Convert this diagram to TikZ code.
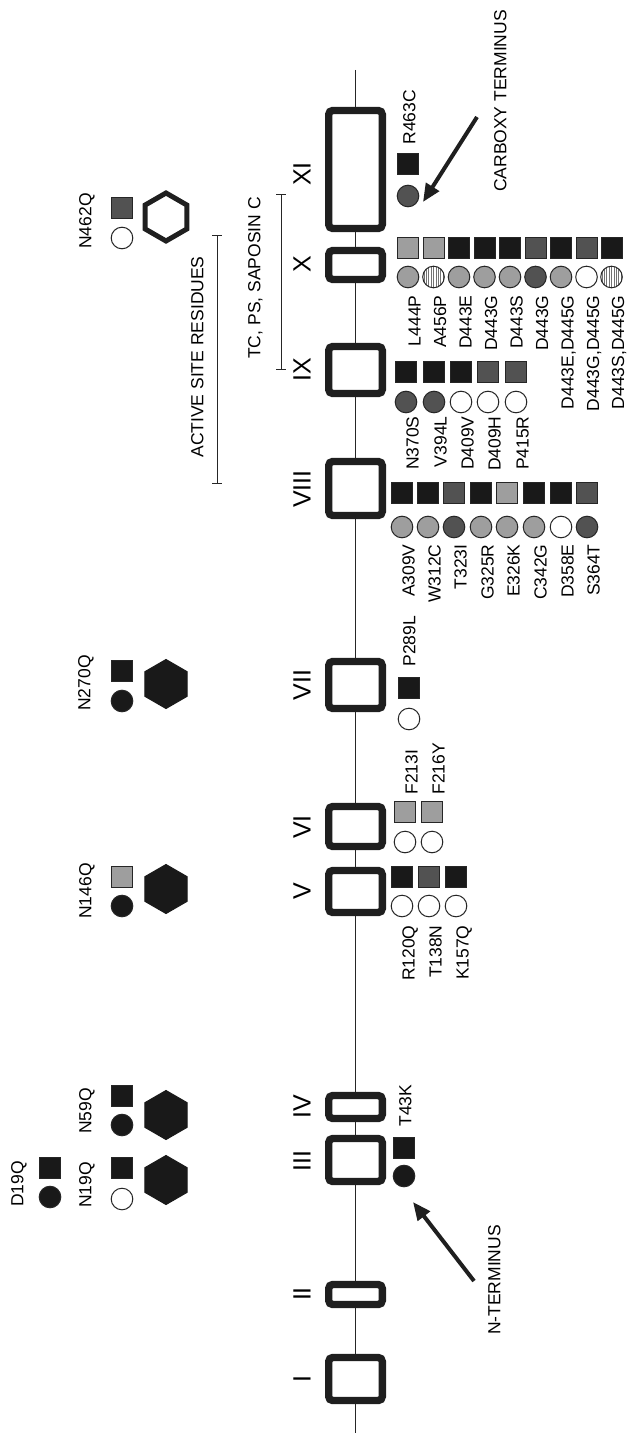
\documentclass[tikz,border=0pt]{standalone}
\usepackage{fontspec}
\setmainfont{Liberation Sans}
\usetikzlibrary{shapes.geometric,arrows.meta}
\newcommand\labfont{\fontsize{8.75}{10}\selectfont}
\newcommand\romfont{\fontsize{12.5}{14}\selectfont}
\begin{document}
\begin{tikzpicture}[x=0.5pt,y=-0.5pt,
  shp/.style={inner sep=0pt, outer sep=0pt, draw=black!85, line width=0.5pt},
  sq/.style={shp, rectangle, minimum size=10.5pt},
  ci/.style={shp, circle, minimum size=10.8pt},
  fk/.style={fill=black!90},
  fl/.style={fill=black!38},
  fd/.style={fill=black!68},
  fw/.style={fill=white},
  fh/.style={fill=white, path picture={
      \foreach \k in {-4,...,4} {
        \draw[black!55, line width=0.3pt]
          ([xshift=\k*1.2pt]path picture bounding box.north) --
          ([xshift=\k*1.2pt]path picture bounding box.south);}}},
  hexa/.style={regular polygon, regular polygon sides=6, rotate=90, inner sep=0pt, minimum size=24.5pt},
  hexfill/.style={hexa, fill=black!90, draw=black!90, line width=0.5pt},
  hexopen/.style={hexa, fill=white, draw=black!88, line width=2.5pt, minimum size=24pt},
  exon/.style={draw=black!88, line width=3.7pt, rounded corners=2pt, fill=white, minimum width=26.8pt, inner sep=0pt},
  lab/.style={rotate=90, inner sep=0pt, font=\labfont},
  rom/.style={rotate=90, inner sep=0pt, font=\romfont},
  spanbar/.style={line width=0.5pt, black!85},
  pointer/.style={-{Triangle[length=9pt,width=7.5pt]}, line width=2pt, black!88}
]
\useasboundingbox (0,0) rectangle (626,1433);

% backbone
\coordinate (ltop) at (355.5,70);
\coordinate (lbot) at (355.5,1433);
\draw[line width=0.6pt, black!85] (ltop) -- (lbot);

% exons
\node[exon, minimum height=59pt]   (b11) at (355.5,169.5) {};
\node[exon, minimum height=14.5pt] (b10) at (355.5,265) {};
\node[exon, minimum height=23.5pt] (b9)  at (355.5,370) {};
\node[exon, minimum height=27pt]   (b8)  at (355.5,488.5) {};
\node[exon, minimum height=23.5pt] (b7)  at (355.5,685) {};
\node[exon, minimum height=20pt]   (b6)  at (355.5,826.5) {};
\node[exon, minimum height=21pt]   (b5)  at (355.5,891.5) {};
\node[exon, minimum height=11.5pt] (b4)  at (355.5,1107) {};
\node[exon, minimum height=21.5pt] (b3)  at (355.5,1160) {};
\node[exon, minimum height=10pt]   (b2)  at (355.5,1294.5) {};
\node[exon, minimum height=21.5pt] (b1)  at (355.5,1379) {};

% roman numerals
\node[rom] (r11) at (302,174) {XI};
\node[rom] (r10) at (302,264) {X};
\node[rom] (r9)  at (302,370) {IX};
\node[rom] (r8)  at (302,489) {VIII};
\node[rom] (r7)  at (302,685) {VII};
\node[rom] (r6)  at (302,827) {VI};
\node[rom] (r5)  at (302,891) {V};
\node[rom] (r4)  at (302,1107) {IV};
\node[rom] (r3)  at (302,1161) {III};
\node[rom] (r2)  at (302,1294) {II};
\node[rom] (r1)  at (302,1379) {I};

% span bars
\coordinate (asA) at (217,236); \coordinate (asB) at (217,483);
\draw[spanbar] (asA) -- (asB);
\draw[spanbar] ([xshift=-2.5]asA) -- ([xshift=2.5]asA);
\draw[spanbar] ([xshift=-2.5]asB) -- ([xshift=2.5]asB);
\node[lab, anchor=base] (astext) at (203.3,357) {ACTIVE SITE RESIDUES};
\coordinate (tcA) at (281,195); \coordinate (tcB) at (281,369);
\draw[spanbar] (tcA) -- (tcB);
\draw[spanbar] ([xshift=-2.5]tcA) -- ([xshift=2.5]tcA);
\draw[spanbar] ([xshift=-2.5]tcB) -- ([xshift=2.5]tcB);
\node[lab, anchor=base] (tctext) at (260.3,278) {TC, PS, SAPOSIN C};

% glycosylation sites (left)
\node[lab, anchor=base] (tD19) at (23.3,1184) {D19Q};
\node[sq,fk] (sD19) at (50,1168) {};
\node[ci,fk] (cD19) at (50,1197) {};

\node[lab, anchor=base] (tN19) at (91.3,1185) {N19Q};
\node[sq,fk] (sN19) at (122,1168) {};
\node[ci,fw] (cN19) at (122,1199) {};
\node[hexfill] (hN19) at (166,1180) {};

\node[lab, anchor=base] (tN59) at (91.3,1111) {N59Q};
\node[sq,fk] (sN59) at (122,1096) {};
\node[ci,fk] (cN59) at (122,1125) {};
\node[hexfill] (hN59) at (166,1115) {};

\node[lab, anchor=base] (tN146) at (91.3,891) {N146Q};
\node[sq,fl] (sN146) at (122,877) {};
\node[ci,fk] (cN146) at (122,906) {};
\node[hexfill] (hN146) at (166,889) {};

\node[lab, anchor=base] (tN270) at (90.3,683) {N270Q};
\node[sq,fk] (sN270) at (122,671) {};
\node[ci,fk] (cN270) at (122,701) {};
\node[hexfill] (hN270) at (166,684) {};

\node[lab, anchor=base] (tN462) at (91.3,221) {N462Q};
\node[sq,fd] (sN462) at (122,208) {};
\node[ci,fw] (cN462) at (122,238) {};
\node[hexopen] (hN462) at (166,217) {};

% exon XI
\node[sq,fk] (sR463) at (408,164) {};
\node[ci,fd] (cR463) at (408,196) {};
\node[lab, anchor=base west] (tR463) at (415.3,145) {R463C};

% exon X
\foreach \x/\s/\c/\t [count=\i] in {408/fl/fl/L444P, 433.5/fl/fh/A456P, 459/fk/fl/D443E,
    484.5/fk/fl/D443G, 510/fk/fl/D443S, 535.5/fd/fd/D443G, 561/fk/fl/{D443E,D445G},
    586.5/fd/fw/{D443G,D445G}, 611.5/fk/fh/{D443S,D445G}} {
  \node[sq,\s] (xs\i) at (\x,248) {};
  \node[ci,\c] (xc\i) at (\x,277) {};
  \node[lab, anchor=base east] (xt\i) at ([xshift=6.3]\x,295) {\t};
}

% exon IX
\foreach \x/\s/\c/\t [count=\i] in {406/fk/fd/N370S, 434/fk/fd/V394L, 461/fk/fw/D409V,
    488/fd/fw/D409H, 516/fd/fw/P415R} {
  \node[sq,\s] (ixs\i) at (\x,372) {};
  \node[ci,\c] (ixc\i) at (\x,402) {};
  \node[lab, anchor=base east] (ixt\i) at ([xshift=6.3]\x,416) {\t};
}

% exon VIII
\foreach \x/\s/\c/\t [count=\i] in {402/fk/fl/A309V, 428/fk/fl/W312C, 454/fd/fd/T323I,
    481/fk/fl/G325R, 507/fl/fl/E326K, 534/fk/fl/C342G, 561/fk/fw/D358E, 587/fd/fd/S364T} {
  \node[sq,\s] (vis\i) at (\x,493) {};
  \node[ci,\c] (vic\i) at (\x,527) {};
  \node[lab, anchor=base east] (vit\i) at ([xshift=6.3]\x,544) {\t};
}

% exon VII
\node[sq,fk] (sP289) at (409,688) {};
\node[ci,fw] (cP289) at (409,719) {};
\node[lab, anchor=base west] (tP289) at (415.3,667) {P289L};

% exon VI
\foreach \x/\t [count=\i] in {405/F213I, 432/F216Y} {
  \node[sq,fl] (vs\i) at (\x,812) {};
  \node[ci,fw] (vc\i) at (\x,842) {};
  \node[lab, anchor=base west] (vt\i) at ([xshift=6.3]\x,795) {\t};
}

% exon V
\foreach \x/\s/\t [count=\i] in {402/fk/R120Q, 429/fd/T138N, 456/fk/K157Q} {
  \node[sq,\s] (fs\i) at (\x,877) {};
  \node[ci,fw] (fc\i) at (\x,906) {};
  \node[lab, anchor=base east] (ft\i) at ([xshift=6.3]\x,925) {\t};
}

% exon III
\node[sq,fk] (sT43) at (404,1148) {};
\node[ci,fk] (cT43) at (404,1176) {};
\node[lab, anchor=base west] (tT43) at (411.3,1127) {T43K};

% termini
\node[lab, anchor=base] (ctext) at (506.3,101) {CARBOXY TERMINUS};
\coordinate (ctail) at (477,117);
\coordinate (ctip) at (423,202);
\draw[pointer] (ctail) -- (ctip);

\node[lab, anchor=base] (ntext) at (500.3,1280) {N-TERMINUS};
\coordinate (ntail) at (474,1281);
\coordinate (ntip) at (413,1202);
\draw[pointer] (ntail) -- (ntip);
\end{tikzpicture}
\end{document}
